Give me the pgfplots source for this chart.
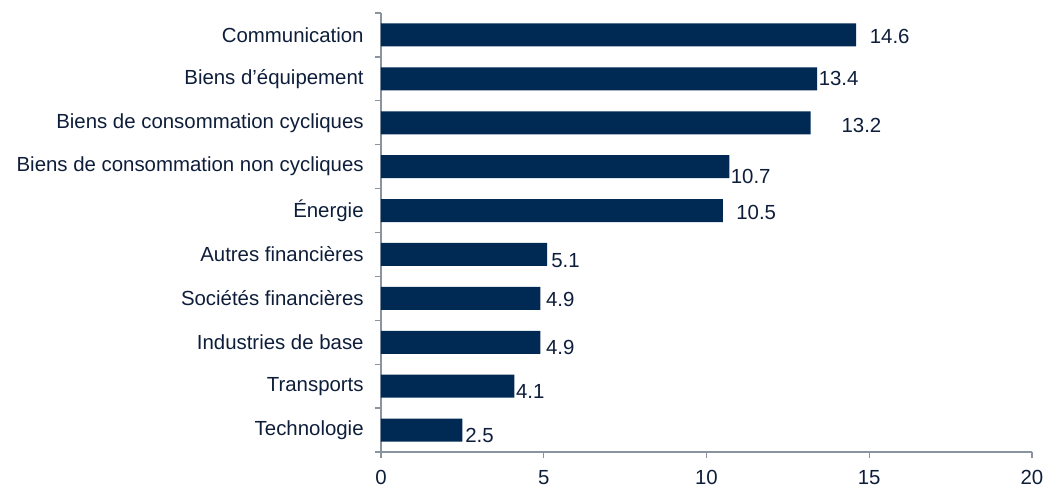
\documentclass[border=0pt]{standalone}
\usepackage{fontspec}
\setmainfont{Liberation Sans}
\usepackage{pgfplots}
\usepackage{pgfplotstable}
\pgfplotsset{compat=1.18}
\definecolor{barnavy}{RGB}{0,41,84}
\definecolor{txt}{RGB}{14,30,58}
\definecolor{axgrey}{RGB}{137,148,160}
\pgfplotstableread{
y val dx dy
0 14.6 9 -1.5
1 13.4 0 0
2 13.2 22 -2.2
3 10.7 0 -7.5
4 10.5 9 -1.5
5 5.1 2 -4.5
6 4.9 3 -0.8
7 4.9 3 -3.8
8 4.1 0 -3.8
9 2.5 1 -3.8
}\data
\begin{document}
\begin{tikzpicture}
\begin{axis}[
  scale only axis, width=488.25pt, height=329.25pt,
  xmin=0, xmax=20, ymin=-0.5, ymax=9.5, y dir=reverse,
  xtick={0,5,10,15,20},
  ytick={-0.5,0.5,...,9.5},
  yticklabels={},
  extra y ticks={0,...,9},
  extra y tick labels={Communication,Biens d’équipement,Biens de consommation cycliques,Biens de consommation non cycliques,Énergie,Autres financières,Sociétés financières,Industries de base,Transports,Technologie},
  extra y tick style={tick style={draw=none}, yticklabel style={xshift=-2pt}},
  axis lines*=left,
  axis line style={axgrey, line width=1pt},
  every tick/.style={axgrey, line width=1pt},
  tick align=outside,
  major tick length=4.5pt,
  /pgf/number format/assume math mode=true,
  ticklabel style={font=\fontsize{15.3}{18}\selectfont, text=txt},
  yticklabel style={xshift=-3pt},
  xticklabel style={yshift=-6pt},
  clip=false,
  nodes near coords,
  point meta=explicit,
  visualization depends on={\thisrow{dx} \as \dx},
  visualization depends on={\thisrow{dy} \as \dy},
  nodes near coords style={anchor=west, font=\fontsize{15.3}{18}\selectfont, text=txt, inner xsep=1pt, xshift=\dx pt, yshift=\dy pt},
]
\addplot[xbar, bar width=17.25pt, fill=barnavy, draw=none] table[x=val, y=y, meta=val] {\data};
\coordinate (BL) at (rel axis cs:0,0);
\coordinate (TR) at (rel axis cs:1,1);
\end{axis}
\pgfresetboundingbox
\path[use as bounding box] ([xshift=-285.75pt,yshift=-24pt]BL) rectangle ([xshift=8.25pt,yshift=9.75pt]TR);
\end{tikzpicture}
\end{document}
